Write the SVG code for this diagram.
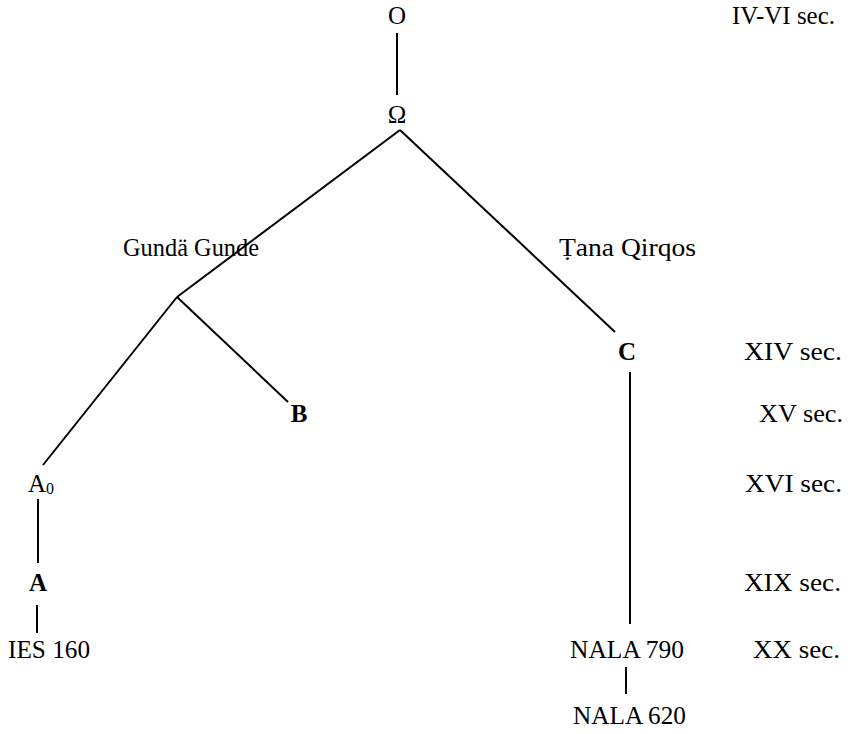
<svg xmlns="http://www.w3.org/2000/svg" width="850" height="734" viewBox="0 0 850 734">
<style>
text{font-family:'Liberation Serif','Times New Roman',Times,serif;font-size:25px;fill:#000}
.b{font-weight:bold}
.c line{stroke:#000;stroke-width:2}
</style>
<rect width="850" height="734" fill="#fff"/>
<g class="c" id="connectors">
<line x1="397" y1="33" x2="397" y2="95"/>
<line x1="400" y1="130" x2="177" y2="297"/>
<line x1="400" y1="130" x2="615" y2="332"/>
<line x1="177" y1="297" x2="288" y2="402"/>
<line x1="177" y1="297" x2="43" y2="465"/>
<line x1="38" y1="499" x2="38" y2="563"/>
<line x1="37" y1="605" x2="37" y2="633"/>
<line x1="630" y1="372" x2="630" y2="624"/>
<line x1="626" y1="667" x2="626" y2="694"/>
</g>
<g id="n-O"><text x="397" y="24" text-anchor="middle">O</text></g>
<g id="n-Omega"><text x="397" y="123" text-anchor="middle">Ω</text></g>
<g id="n-gunda"><text x="123" y="256" textLength="136" lengthAdjust="spacingAndGlyphs">Gundä Gunde</text></g>
<g id="n-tana"><text x="559" y="256" textLength="137" lengthAdjust="spacingAndGlyphs">Ṭana Qirqos</text></g>
<g id="n-C"><text class="b" x="627" y="360" text-anchor="middle">C</text></g>
<g id="n-B"><text class="b" x="299" y="422" text-anchor="middle">B</text></g>
<g id="n-A0"><text x="28" y="492">A<tspan font-size="16" dy="2">0</tspan></text></g>
<g id="n-A"><text class="b" x="38" y="591" text-anchor="middle">A</text></g>
<g id="n-IES160"><text x="8" y="658" textLength="82" lengthAdjust="spacingAndGlyphs">IES 160</text></g>
<g id="n-NALA790"><text x="570" y="658" textLength="114" lengthAdjust="spacingAndGlyphs">NALA 790</text></g>
<g id="n-NALA620"><text x="573" y="724" textLength="113" lengthAdjust="spacingAndGlyphs">NALA 620</text></g>
<g id="centuries">
<text x="732" y="24" textLength="103" lengthAdjust="spacingAndGlyphs">IV-VI sec.</text>
<text x="744" y="360" textLength="98" lengthAdjust="spacingAndGlyphs">XIV sec.</text>
<text x="759" y="422" textLength="84" lengthAdjust="spacingAndGlyphs">XV sec.</text>
<text x="745" y="492" textLength="97" lengthAdjust="spacingAndGlyphs">XVI sec.</text>
<text x="744" y="591" textLength="97" lengthAdjust="spacingAndGlyphs">XIX sec.</text>
<text x="753" y="658" textLength="87" lengthAdjust="spacingAndGlyphs">XX sec.</text>
</g>
</svg>
